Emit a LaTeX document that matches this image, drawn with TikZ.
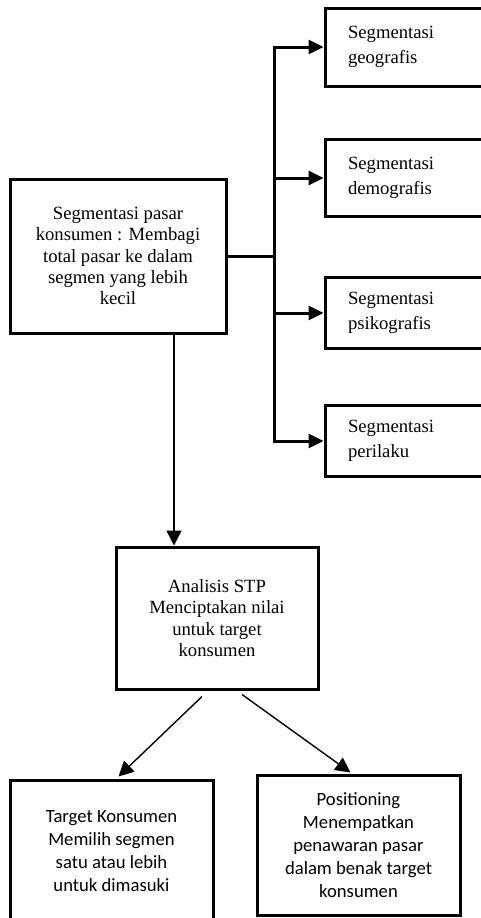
\documentclass[tikz,border=0pt]{standalone}
\usepackage{fontspec}
\setmainfont{Liberation Serif}
\newfontfamily\calibri{Carlito}
\usetikzlibrary{arrows.meta}

\tikzset{
  kasten/.style={draw,line width=3pt,align=center,inner sep=0pt,
    font=\fontsize{18.67}{21.3}\selectfont},
  segkasten/.style={draw,line width=3pt,align=left,inner xsep=23pt,inner ysep=0pt,
    text width=112pt,minimum width=158pt,font=\fontsize{18.67}{25}\selectfont},
  sanskasten/.style={kasten,font=\calibri\fontsize{18.67}{22.9}\selectfont},
  dick/.style={line width=3pt,line cap=rect},
  dickpfeil/.style={line width=3pt,-{Triangle[length=15pt,width=14pt]}},
  duennpfeil/.style={line width=1.4pt,-{Triangle[length=15pt,width=15pt]}}
}

\begin{document}
\begin{tikzpicture}[x=1pt,y=-1pt]
  \useasboundingbox (0,0) rectangle (481,918);
  % Hauptkasten links
  \node[kasten,minimum width=216pt,minimum height=154pt] (pasar) at (118,256)
    {Segmentasi pasar\\konsumen : Membagi\\total pasar ke dalam\\segmen yang lebih\\kecil};
  % Segmente rechts
  \node[segkasten,minimum height=78pt] (geo) at (404,47) {Segmentasi\\geografis};
  \node[segkasten,minimum height=77pt] (demo) at (404,178) {Segmentasi\\demografis};
  \node[segkasten,minimum height=71pt] (psiko) at (404,313) {Segmentasi\\psikografis};
  \node[segkasten,minimum height=71pt] (perilaku) at (404,441) {Segmentasi\\perilaku};
  % STP und die zwei unteren Kaesten
  \node[kasten,minimum width=202pt,minimum height=142pt] (stp) at (217,618)
    {Analisis STP\\Menciptakan nilai\\untuk target\\konsumen};
  \node[sanskasten,minimum width=203pt,minimum height=142pt] (target) at (111.5,851)
    {Target Konsumen\\Memilih segmen\\satu atau lebih\\untuk dimasuki};
  \node[sanskasten,minimum width=203pt,minimum height=140pt] (posit) at (358.5,845)
    {Positioning\\Menempatkan\\penawaran pasar\\dalam benak target\\konsumen};
  % Verzweigung
  \coordinate (stamm) at (274,0);
  \draw[dick] (pasar.east) -- (pasar.east -| stamm);
  \draw[dick] (stamm |- geo.west) -- (stamm |- perilaku.west);
  \foreach \k in {geo,demo,psiko,perilaku}
    \draw[dickpfeil] (stamm |- \k.west) -- (\k.west);
  % Pfeile nach unten
  \coordinate (abw) at (174,333);
  \draw[duennpfeil] (abw) -- (abw |- stp.north);
  \draw[duennpfeil] ([xshift=-15pt,yshift=-6pt]stp.south) -- ([xshift=7pt,yshift=2pt]target.north);
  \draw[duennpfeil] ([xshift=25pt,yshift=-4pt]stp.south) -- ([xshift=-8pt,yshift=1pt]posit.north);
\end{tikzpicture}
\end{document}
